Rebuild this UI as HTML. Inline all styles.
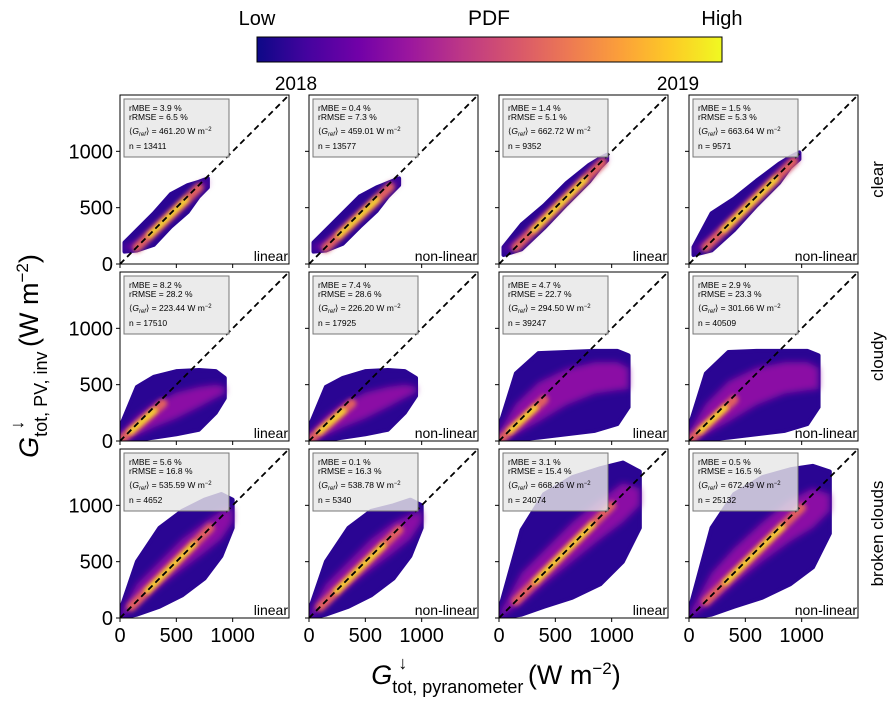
<!DOCTYPE html>
<html><head><meta charset="utf-8">
<style>
html,body{margin:0;padding:0;background:#fff;}
svg{display:block;font-family:"Liberation Sans","DejaVu Sans",sans-serif;}
</style></head>
<body>
<svg id="chart" width="895" height="703" viewBox="0 0 895 703" xmlns="http://www.w3.org/2000/svg">
<defs>
<linearGradient id="plasma" x1="0" x2="1" y1="0" y2="0">
<stop offset="0" stop-color="#0d0887"/><stop offset="0.11" stop-color="#46039f"/>
<stop offset="0.22" stop-color="#7201a8"/><stop offset="0.33" stop-color="#9c179e"/>
<stop offset="0.44" stop-color="#bd3786"/><stop offset="0.56" stop-color="#d8576b"/>
<stop offset="0.67" stop-color="#ed7953"/><stop offset="0.78" stop-color="#fb9f3a"/>
<stop offset="0.89" stop-color="#fdca26"/><stop offset="1" stop-color="#f0f921"/>
</linearGradient>
<filter id="soft" x="-20%" y="-20%" width="140%" height="140%"><feGaussianBlur stdDeviation="2"/></filter>
<filter id="soft2" x="-20%" y="-20%" width="140%" height="140%"><feGaussianBlur stdDeviation="3.5"/></filter>
</defs>
<g>
<rect x="257" y="37" width="465" height="25" fill="url(#plasma)" stroke="#000" stroke-width="1"/>
<text x="257" y="25" font-size="20" text-anchor="middle">Low</text>
<text x="489" y="25" font-size="21" text-anchor="middle">PDF</text>
<text x="722" y="25" font-size="20" text-anchor="middle">High</text>
</g>
<text x="296" y="90" font-size="19" text-anchor="middle">2018</text>
<text x="678" y="90" font-size="19" text-anchor="middle">2019</text>
<text transform="translate(38,356) rotate(-90)" font-size="27" text-anchor="middle"><tspan font-style="italic">G</tspan><tspan font-size="18" dy="9">tot, PV, inv</tspan><tspan font-size="18" dx="-78" dy="-24">↓</tspan><tspan dx="66" dy="15" font-size="27"> (W m</tspan><tspan font-size="17" dy="-10">−2</tspan><tspan dy="10">)</tspan></text>
<text x="496" y="684" font-size="27" text-anchor="middle"><tspan font-style="italic">G</tspan><tspan font-size="18" dy="9">tot, pyranometer</tspan><tspan font-size="18" dx="-125" dy="-24">↓</tspan><tspan dx="113" dy="15" font-size="27"> (W m</tspan><tspan font-size="17" dy="-10">−2</tspan><tspan dy="10">)</tspan></text>
<g id="panels"></g>
</svg>
<script>
const lefts=[120,309,499,689], tops=[95,272,449], SIZE=169, MAXV=1500;
const rowLabels=["clear","cloudy","broken clouds"];
const methods=["linear","non-linear","linear","non-linear"];
const ticks=[0,500,1000];
const rMBE=["3.9","0.4","1.4","1.5","8.2","7.4","4.7","2.9","5.6","0.1","3.1","0.5"];
const rRMSE=["6.5","7.3","5.1","5.3","28.2","28.6","22.7","23.3","16.8","16.3","15.4","16.5"];
const gRef=["461.20","459.01","662.72","663.64","223.44","226.20","294.50","301.66","535.59","538.78","668.26","672.49"];
const nObs=["13411","13577","9352","9571","17510","17925","39247","40509","4652","5340","24074","25132"];
const outerX=[
[40,150,300,450,600,700,780],[40,150,300,450,600,700,800],[40,200,400,600,800,900,960],[40,200,400,600,800,900,980],
[0,150,300,500,700,850,930],[0,150,300,500,700,850,950],[0,150,350,600,850,1050,1150],[0,150,350,600,850,1050,1150],
[0,150,350,550,750,900,1000],[0,150,350,550,750,900,1000],[0,200,400,650,900,1100,1250],[0,200,400,650,900,1100,1250]];
const outerLo=[
[110,120,170,330,460,600,680],[110,120,180,330,470,600,700],[80,130,320,530,730,860,920],[80,120,300,520,720,860,930],
[0,10,30,60,100,250,380],[0,10,30,60,100,250,400],[0,10,30,60,90,150,300],[0,10,30,60,90,150,300],
[0,30,100,200,350,550,800],[0,30,100,200,350,550,800],[0,30,100,180,300,500,800],[0,30,100,180,300,450,750]];
const outerHi=[
[190,300,450,620,700,730,760],[190,300,450,600,680,720,760],[150,350,520,720,880,940,970],[150,450,580,740,890,950,990],
[120,480,570,620,630,620,560],[120,480,560,620,630,620,560],[120,600,780,790,800,800,760],[120,600,790,800,800,800,760],
[60,500,800,950,1050,1100,1050],[60,500,800,950,1000,1050,1000],[60,780,1100,1250,1330,1380,1300],[60,800,1100,1250,1320,1350,1300]];
const innerLo=[
[130,140,260,400,540,650,710],[130,140,260,400,540,650,720],[110,170,370,570,770,880,930],[110,170,360,560,760,870,940],
[0,50,120,200,300,380,420],[0,50,120,200,300,380,430],[0,60,170,320,420,450,460],[0,60,170,320,420,450,460],
[0,110,280,430,580,700,850],[0,110,280,430,580,700,850],[0,130,300,500,700,850,1000],[0,130,300,500,680,800,950]];
const innerHi=[
[160,190,330,460,590,690,750],[160,200,330,460,590,690,750],[130,240,440,630,830,920,960],[130,250,440,640,830,930,970],
[60,220,330,430,480,500,480],[60,220,330,430,480,500,480],[80,330,520,640,700,700,650],[80,330,530,650,700,700,650],
[30,300,500,700,850,950,980],[30,300,500,700,850,920,950],[30,400,600,850,1050,1200,1150],[30,400,620,850,1050,1150,1100]];
const coreStart=[150,150,150,150,20,20,20,20,100,100,150,150];
const coreEnd=[700,720,920,930,380,380,400,400,800,800,1000,1000];
const coreSlope=[0.97,0.95,0.98,0.98,0.88,0.88,0.92,0.92,1.0,0.98,1.0,0.98];

const NS="http://www.w3.org/2000/svg";
const root=document.getElementById('panels');
function mk(tag,attrs,parent){const e=document.createElementNS(NS,tag);for(const k in attrs)e.setAttribute(k,attrs[k]);parent.appendChild(e);return e;}

for(let r=0;r<3;r++){for(let c=0;c<4;c++){
 const i=r*4+c, L=lefts[c], T=tops[r];
 const sx=v=>L+v/MAXV*SIZE, sy=v=>T+SIZE-v/MAXV*SIZE;
 const g=mk('g',{},root);
 
 
 const clip='clip'+i;
 const cp=mk('clipPath',{id:clip},g);mk('rect',{x:L,y:T,width:SIZE,height:SIZE},cp);
 const data=mk('g',{'clip-path':'url(#'+clip+')'},g);
 function band(xs,lo,hi){let p=[];for(let k=0;k<xs.length;k++)p.push(sx(xs[k])+','+sy(hi[k]));for(let k=xs.length-1;k>=0;k--)p.push(sx(xs[k])+','+sy(lo[k]));return p.join(' ');}
 const o=mk('polygon',{points:band(outerX[i],outerLo[i],outerHi[i]),fill:'#2a0593',stroke:'#2a0593','stroke-width':4,'stroke-linejoin':'round'},data);
 
 
 const m=mk('polygon',{points:band(outerX[i],innerLo[i],innerHi[i]),fill:'#8b0aa5',filter:'url(#soft2)'},data);
 
 
 const a=coreStart[i], b=coreEnd[i], s=coreSlope[i];
 const c1=mk('line',{x1:sx(a),y1:sy(a*s),x2:sx(b),y2:sy(b*s),stroke:'#e0605f','stroke-width':9,'stroke-linecap':'round',filter:'url(#soft)'},data);
 
 
 const a2=a+(b-a)*0.2, b2=a+(b-a)*0.8;
 const c2=mk('line',{x1:sx(a2),y1:sy(a2*s),x2:sx(b2),y2:sy(b2*s),stroke:'#f5e32a','stroke-width':5,'stroke-linecap':'round',filter:'url(#soft)'},data);
 
 
 const d=mk('line',{x1:sx(0),y1:sy(0),x2:sx(MAXV),y2:sy(MAXV),stroke:'#000','stroke-width':1.8,'stroke-dasharray':'6,4'},data);
 
 
 const bx=mk('g',{},g);
 
 
 mk('rect',{x:L+4,y:T+4,width:105,height:58,fill:'#e6e6e6','fill-opacity':0.82,stroke:'#777','stroke-width':1},bx);
 const lines=['rMBE = '+rMBE[i]+' %','rRMSE = '+rRMSE[i]+' %','','n = '+nObs[i]];
 const ys=[16,25,39,54];
 for(let k=0;k<4;k++){
  const t=mk('text',{x:L+9,y:T+ys[k],'font-size':8.5},bx);
  if(k==2){t.innerHTML='\u27E8<tspan font-style="italic">G</tspan><tspan font-size="6" dy="2" font-style="italic">ref</tspan><tspan dy="-2">\u27E9 = '+gRef[i]+' W m</tspan><tspan font-size="6" dy="-3">\u22122</tspan>';}
  else t.textContent=lines[k];
 }
 const fr=mk('rect',{x:L,y:T,width:SIZE,height:SIZE,fill:'none',stroke:'#000','stroke-width':1},g);
 
 
 const ml=mk('text',{x:L+SIZE-1,y:T+SIZE-3,'font-size':14,'text-anchor':'end'},g);
 ml.textContent=methods[c];
 
 
 for(const tv of ticks){
  mk('line',{x1:sx(tv),y1:T+SIZE,x2:sx(tv),y2:T+SIZE+4,stroke:'#000'},g);
  mk('line',{x1:L,y1:sy(tv),x2:L-4,y2:sy(tv),stroke:'#000'},g);
  if(r==2){const t=mk('text',{x:sx(tv),y:T+SIZE+24,'font-size':20,'text-anchor':'middle'},g);t.textContent=tv;
   
   }
  if(c==0){const t=mk('text',{x:L-7,y:sy(tv)+7,'font-size':20,'text-anchor':'end'},g);t.textContent=tv;
   
   }
 }
 if(c==3){const t=mk('text',{'font-size':17,'text-anchor':'middle',transform:'translate('+(L+SIZE+25)+','+(T+SIZE/2)+') rotate(-90)'},g);
  t.textContent=rowLabels[r];
  
  }
}}
</script>
</body></html>
